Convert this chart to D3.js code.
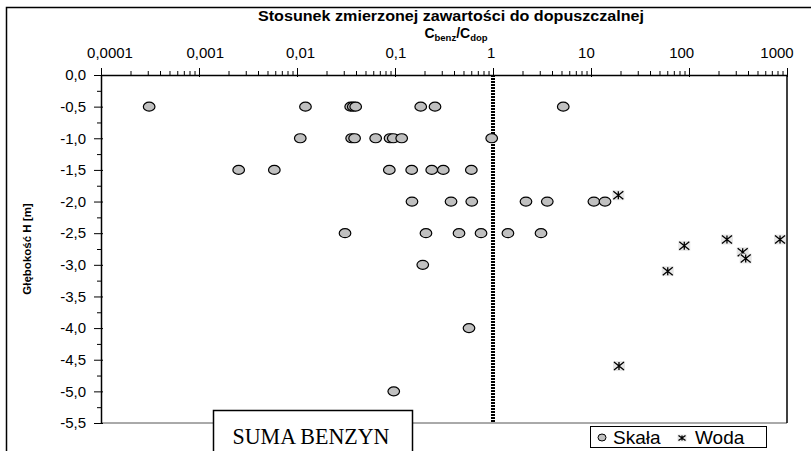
<!DOCTYPE html>
<html>
<head>
  <meta charset="utf-8">
  <title>Suma benzyn</title>
  <script src="https://d3js.org/d3.v7.min.js"></script>
  <style>
    body { margin: 0; background: #fff; }
  </style>
</head>
<body>
<script>
// Skała (rock samples): depth H [m] and ratio Cbenz/Cdop
var skalaH = [-0.5, -0.5, -0.5, -0.5, -0.5, -0.5, -0.5, -0.5,
              -1.0, -1.0, -1.0, -1.0, -1.0, -1.0, -1.0, -1.0,
              -1.5, -1.5, -1.5, -1.5, -1.5, -1.5, -1.5,
              -2.0, -2.0, -2.0, -2.0, -2.0, -2.0, -2.0,
              -2.5, -2.5, -2.5, -2.5, -2.5, -2.5,
              -3.0, -4.0, -5.0];
var skalaC = [0.00031, 0.0122, 0.0353, 0.0375, 0.0397, 0.183, 0.256, 5.21,
              0.0108, 0.0361, 0.0387, 0.0635, 0.089, 0.096, 0.117, 0.97,
              0.00254, 0.00587, 0.0875, 0.148, 0.237, 0.311, 0.601,
              0.149, 0.373, 0.607, 2.17, 3.58, 10.7, 13.9,
              0.0309, 0.207, 0.450, 0.755, 1.42, 3.09,
              0.192, 0.569, 0.0971];

// Woda (water samples)
var wodaH = [-1.9, -2.7, -2.6, -2.8, -2.9, -2.6, -3.1, -4.6];
var wodaC = [19.0, 89.5, 244, 353, 379, 849, 60.7, 19.3];

var xTickValues = [0.0001, 0.001, 0.01, 0.1, 1, 10, 100, 1000];
var xTickLabels = ["0,0001", "0,001", "0,01", "0,1", "1", "10", "100", "1000"];
var yTickValues = [0, -0.5, -1, -1.5, -2, -2.5, -3, -3.5, -4, -4.5, -5, -5.5];
var yTickLabels = ["0,0", "-0,5", "-1,0", "-1,5", "-2,0", "-2,5", "-3,0", "-3,5", "-4,0", "-4,5", "-5,0", "-5,5"];

var W = 811, H = 451;
var pLeft = 101, pRight = 787, pTop = 75, pBottom = 423;
var sans = "Arial, 'Liberation Sans', sans-serif";

var svg = d3.select("body").append("svg")
    .attr("width", W)
    .attr("height", H)
    .style("font-family", sans);

// outer frame (only left and top visible)
svg.append("rect")
    .attr("x", 6.5).attr("y", 7.5)
    .attr("width", W + 10).attr("height", H + 10)
    .attr("fill", "none").attr("stroke", "#000").attr("stroke-width", 1.5);

var x = d3.scaleLog().domain([0.0001, 1000]).range([pLeft, pRight]);
var y = d3.scaleLinear().domain([0, -5.5]).range([pTop, pBottom]);
// tick labels sit on a slightly narrower spread than the ticks
var xLab = d3.scaleLog().domain([0.0001, 1000]).range([110, 777]);

// plot frame: bottom + right
svg.append("line")
    .attr("x1", pLeft).attr("x2", pRight).attr("y1", pBottom).attr("y2", pBottom)
    .attr("stroke", "#555").attr("stroke-width", 1);
svg.append("line")
    .attr("x1", pRight).attr("x2", pRight).attr("y1", pTop).attr("y2", pBottom)
    .attr("stroke", "#000").attr("stroke-width", 1.5);

// minor ticks on top axis
var minorX = [];
for (var e = -4; e < 3; e++) {
  for (var m = 2; m <= 9; m++) minorX.push(m * Math.pow(10, e));
}
svg.append("g").attr("transform", "translate(0," + pTop + ")")
    .call(d3.axisTop(x).tickValues(minorX).tickSize(4).tickFormat(""))
    .call(function(g) { g.select(".domain").remove(); });

// top axis
var xAxis = svg.append("g").attr("transform", "translate(0," + pTop + ")")
    .call(d3.axisTop(x).tickValues(xTickValues).tickSizeInner(7).tickSizeOuter(0)
      .tickFormat(""));
xAxis.select(".domain").attr("stroke-width", 1.5);
xAxis.selectAll(".tick line").attr("y2", -7).attr("y1", 2);

svg.append("g").selectAll("text")
    .data(xTickValues)
    .enter().append("text")
    .attr("x", function(d) { return xLab(d); })
    .attr("y", 58)
    .attr("text-anchor", "middle")
    .attr("font-size", 15)
    .text(function(d, i) { return xTickLabels[i]; });

// left axis: minor ticks at 0.25
var minorY = d3.range(-0.25, -5.5, -0.5);
svg.append("g").attr("transform", "translate(" + pLeft + ",0)")
    .call(d3.axisLeft(y).tickValues(minorY).tickSize(4).tickFormat(""))
    .call(function(g) { g.select(".domain").remove(); });

var yAxis = svg.append("g").attr("transform", "translate(" + pLeft + ",0)")
    .call(d3.axisLeft(y).tickValues(yTickValues).tickSizeInner(7).tickSizeOuter(0)
      .tickPadding(8)
      .tickFormat(function(d, i) { return yTickLabels[i]; }));
yAxis.select(".domain").attr("stroke-width", 1.5);
yAxis.selectAll(".tick line").attr("x1", 2);
yAxis.selectAll("text").attr("font-size", 15).attr("font-family", sans);

// dotted line at ratio = 1
svg.append("line")
    .attr("x1", x(1)).attr("x2", x(1)).attr("y1", pTop).attr("y2", pBottom)
    .attr("stroke", "#000").attr("stroke-width", 4)
    .attr("stroke-dasharray", "2,1");

// titles
svg.append("text")
    .attr("x", 451).attr("y", 21)
    .attr("text-anchor", "middle").attr("font-weight", "bold").attr("font-size", 14)
    .attr("textLength", 386).attr("lengthAdjust", "spacingAndGlyphs")
    .text("Stosunek zmierzonej zawartości do dopuszczalnej");

var sub = svg.append("text")
    .attr("x", 456).attr("y", 38)
    .attr("text-anchor", "middle").attr("font-weight", "bold").attr("font-size", 14);
sub.append("tspan").text("C");
sub.append("tspan").attr("font-size", 9.5).attr("dy", 3).text("benz");
sub.append("tspan").attr("dy", -3).text("/C");
sub.append("tspan").attr("font-size", 9.5).attr("dy", 3).text("dop");

svg.append("text")
    .attr("transform", "translate(31," + ((pTop + pBottom) / 2) + ") rotate(-90)")
    .attr("text-anchor", "middle").attr("font-weight", "bold").attr("font-size", 11.5)
    .text("Głębokość H [m]");

// Skała points
var skala = skalaC.map(function(c, i) { return { c: c, h: skalaH[i] }; });
svg.append("g").selectAll("ellipse")
    .data(skala)
    .enter().append("ellipse")
    .attr("cx", function(d) { return x(d.c); })
    .attr("cy", function(d) { return y(d.h); })
    .attr("rx", 5.8).attr("ry", 4.5)
    .attr("fill", "#c0c0c0").attr("stroke", "#000").attr("stroke-width", 1.2);

// Woda points (star markers on light square)
function star(g, s) {
  g.append("rect").attr("x", -s - 1).attr("y", -s).attr("width", 2 * s + 2).attr("height", 2 * s)
      .attr("fill", "#e6e6e6");
  g.append("path")
      .attr("d", "M" + (-s) + "," + (-s + 1) + "L" + s + "," + (s - 1) +
                 "M" + (-s) + "," + (s - 1) + "L" + s + "," + (-s + 1) +
                 "M0," + (-s + 1) + "L0," + (s - 1))
      .attr("stroke", "#000").attr("stroke-width", 1.3).attr("fill", "none");
}
var woda = wodaC.map(function(c, i) { return { c: c, h: wodaH[i] }; });
svg.append("g").selectAll("g")
    .data(woda)
    .enter().append("g")
    .attr("transform", function(d) { return "translate(" + x(d.c) + "," + y(d.h) + ")"; })
    .each(function() { star(d3.select(this), 5); });

// SUMA BENZYN box
svg.append("rect")
    .attr("x", 213.5).attr("y", 410.5).attr("width", 199).attr("height", 50)
    .attr("fill", "#fff").attr("stroke", "#000").attr("stroke-width", 1.5);
svg.append("text")
    .attr("x", 311).attr("y", 444)
    .attr("text-anchor", "middle").attr("font-size", 23)
    .style("font-family", "'Liberation Serif', 'Times New Roman', serif")
    .attr("textLength", 157).attr("lengthAdjust", "spacingAndGlyphs")
    .text("SUMA BENZYN");

// legend
var lg = svg.append("g").attr("transform", "translate(590,426)");
lg.append("rect").attr("x", 0.5).attr("y", 0.5).attr("width", 176).attr("height", 21)
    .attr("fill", "#fff").attr("stroke", "#000").attr("stroke-width", 1);
lg.append("ellipse").attr("cx", 12).attr("cy", 11.5).attr("rx", 4).attr("ry", 3.5)
    .attr("fill", "#c0c0c0").attr("stroke", "#000").attr("stroke-width", 1);
lg.append("text").attr("x", 23).attr("y", 18).attr("font-size", 19).text("Skała");
var ls = lg.append("g").attr("transform", "translate(92,12)");
star(ls, 3.5);
lg.append("text").attr("x", 105).attr("y", 18).attr("font-size", 19).text("Woda");
</script>
</body>
</html>
